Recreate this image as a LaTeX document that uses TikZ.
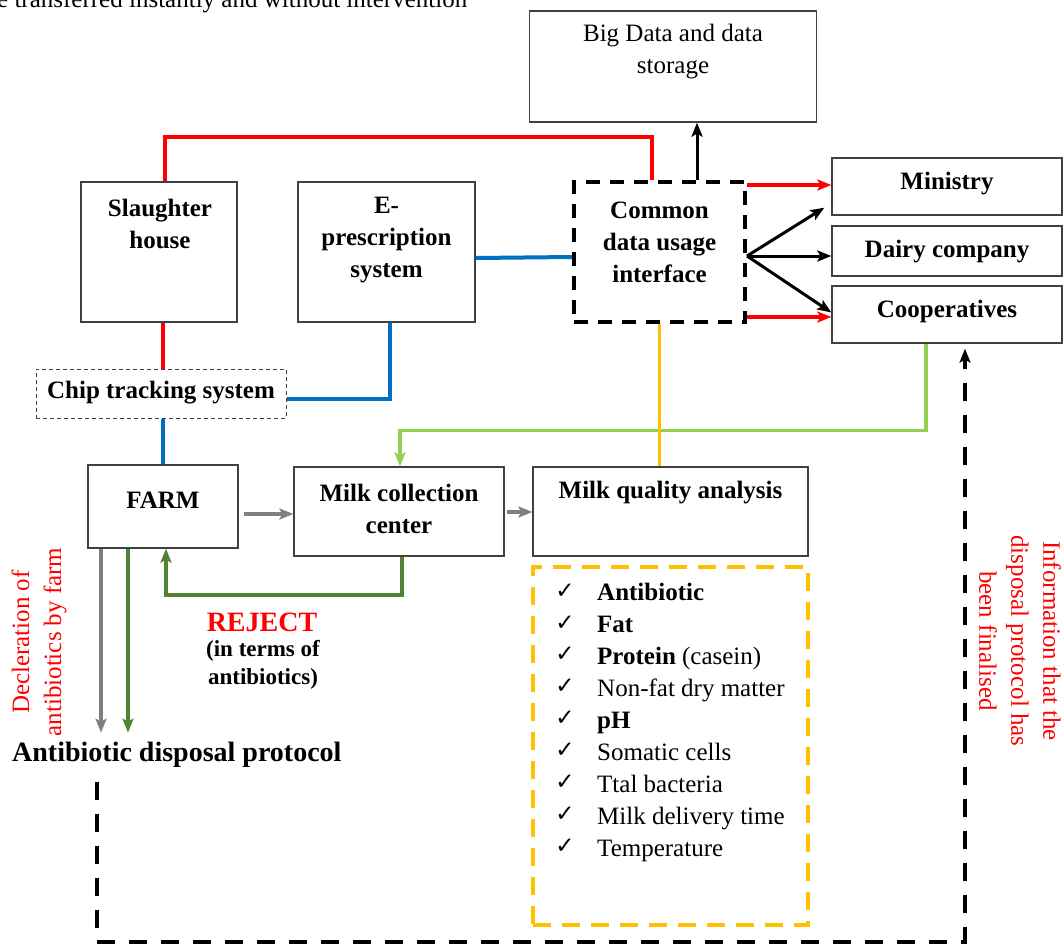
\documentclass[tikz,border=0pt]{standalone}
\usepackage{fontspec}
\setmainfont{Liberation Serif}
\newfontfamily\symfont{DejaVu Sans}
\usetikzlibrary{arrows.meta,calc}
\definecolor{cred}{HTML}{FF0000}
\definecolor{cblue}{HTML}{0070C0}
\definecolor{clgreen}{HTML}{92D050}
\definecolor{cdgreen}{HTML}{548235}
\definecolor{corange}{HTML}{FFC000}
\definecolor{cgray}{HTML}{808080}
\definecolor{cborder}{HTML}{404040}
\begin{document}
\begin{tikzpicture}[x=1pt,y=-1pt,
  box/.style={draw=cborder,line width=1.3pt,inner sep=0pt},
  txt/.style={font=\fontsize{25}{32}\selectfont\bfseries,align=center,inner sep=0pt},
  rtxt/.style={font=\fontsize{25}{32}\selectfont,align=center,inner sep=0pt},
  conn/.style={line width=4pt},
  thin/.style={line width=3pt},
  tip/.style={-{Stealth[length=14pt,width=11pt,inset=3pt]}},
  chk/.style={font=\fontsize{23}{25}\symfont,inner sep=0pt},
  item/.style={font=\fontsize{25}{32}\selectfont,anchor=base west,inner sep=0pt}
]
\clip (0,0) rectangle (1064,943);
\fill[white] (0,0) rectangle (1064,943);

% top cropped text
\node[rtxt,anchor=base west] (toptext) at (-3,7) {e transferred instantly and without intervention};

% boxes
\node[box,minimum width=287pt,minimum height=111pt] (bigdata) at (673,66.5) {};
\node[rtxt] (bigdatat) at (673,52) {Big Data and data\\storage};

\node[box,minimum width=156pt,minimum height=140pt] (sh) at (159,252) {};
\node[txt] (sht) at (160,224) {Slaughter\\house};

\node[box,minimum width=177pt,minimum height=140pt] (ep) at (386.5,252) {};
\node[txt] (ept) at (386.5,240) {E-\\prescription\\system};

\node[draw=black,line width=4pt,dash pattern=on 14pt off 10pt,minimum width=171pt,minimum height=140pt,inner sep=0pt] (cdi) at (659.5,252) {};
\node[txt] (cdit) at (659.5,242) {Common\\data usage\\interface};

\node[draw=cborder,line width=1pt,dash pattern=on 4pt off 3pt,minimum width=250pt,minimum height=49pt,inner sep=0pt] (chip) at (161,393.5) {};
\node[txt] (chipt) at (161,393) {Chip tracking system};

\node[box,minimum width=230pt,minimum height=57pt] (min) at (947,186.5) {};
\node[txt] (mint) at (947,184) {Ministry};
\node[box,minimum width=230pt,minimum height=50pt] (dairy) at (947,251) {};
\node[txt] (dairyt) at (947,252) {Dairy company};
\node[box,minimum width=230pt,minimum height=57pt] (coop) at (947,314.5) {};
\node[txt] (coopt) at (947,311) {Cooperatives};

\node[box,minimum width=150pt,minimum height=83pt] (farm) at (163,506.5) {};
\node[txt] (farmt) at (163,500) {FARM};
\node[box,minimum width=210pt,minimum height=89pt] (mcc) at (399,511.5) {};
\node[txt] (mcct) at (399,509) {Milk collection\\center};
\node[box,minimum width=275pt,minimum height=89pt] (mqa) at (670.5,511.5) {};
\node[txt] (mqat) at (670.5,493) {Milk quality analysis};

\node[draw=corange,line width=4pt,dash pattern=on 18pt off 11pt,minimum width=275pt,minimum height=358pt,inner sep=0pt] (chkbox) at (670.5,746) {};
\foreach \t [count=\i] in {{\bfseries Antibiotic},{\bfseries Fat},{{\bfseries Protein} (casein)},Non-fat dry matter,{\bfseries pH},Somatic cells,Ttal bacteria,Milk delivery time,Temperature} {
  \node[chk] (cm\i) at (565,{559+31.9*\i}) {✓};
  \node[item] (it\i) at (597,{569+31.9*\i}) {\t};
}

% labels
\node[font=\fontsize{28}{32}\selectfont\bfseries,anchor=west,inner sep=0pt] (adp) at (12,755) {Antibiotic disposal protocol};
\node[font=\fontsize{28}{30}\selectfont\bfseries,text=cred,inner sep=0pt] (rej) at (262,622) {REJECT};
\node[font=\fontsize{23}{28}\selectfont\bfseries,align=center,inner sep=0pt] (rejt) at (263,665) {(in terms of\\antibiotics)};
\node[rtxt,text=cred,rotate=90] (decl) at (39,642) {Decleration of\\antibiotics by farm};
\node[rtxt,text=cred,rotate=-90] (info) at (1020,641) {Information that the\\disposal protocol has\\been finalised};

% coordinates
\coordinate (r1) at ([yshift=-5pt]cdi.north east);
\coordinate (r2) at ([yshift=7pt]cdi.south east);
\coordinate (fan) at ([yshift=-4pt]cdi.east);
\coordinate (dstart) at (97,782);

% connectors
\draw[conn,cred] ([xshift=6pt]sh.north) -- ++(0,-44) -| ([xshift=-7.5pt]cdi.north);
\draw[thin,black,tip] ([xshift=37.5pt]cdi.north) -- ([xshift=24pt]bigdata.south);
\draw[conn,cblue] ([yshift=-6pt]ep.east) -- ([yshift=-5pt]cdi.west);
\draw[conn,cblue] ([xshift=3pt]ep.south) |- ([yshift=-5pt]chip.east);
\draw[conn,cred] (sh.south -| farm.north) -- (chip.north -| farm.north);
\draw[conn,cblue] (chip.south -| farm.north) -- (farm.north);

\draw[conn,cred,tip] (r1) -- (r1 -| min.west);
\draw[conn,cred,tip] (r2) -- (r2 -| coop.west);
\draw[thin,black,tip] (fan) -- ([shift={(-7pt,8pt)}]min.south west);
\draw[thin,black,tip] (fan) -- (fan -| dairy.west);
\draw[thin,black,tip] (fan) -- ([yshift=2pt]coop.west);

\draw[line width=3.5pt,clgreen,tip] ([xshift=-21pt]coop.south) -- ++(0,87) -| ([xshift=1pt]mcc.north);
\draw[line width=3.5pt,corange] (cdi.south) -- (cdi.south |- mqa.north);

\draw[conn,cgray,tip] ([shift={(5pt,-7.5pt)}]farm.east) -- ([yshift=-2.5pt]mcc.west);
\draw[conn,cgray,tip] ([shift={(2pt,-0.5pt)}]mcc.east) -- ([yshift=-0.5pt]mqa.west);
\draw[conn,cdgreen,tip] ([xshift=3pt]mcc.south) -- ++(0,38) -| ([xshift=3pt]farm.south);
\draw[conn,cgray,tip] ([xshift=-62pt]farm.south) -- ++(0,184);
\draw[conn,cdgreen,tip] ([xshift=-35pt]farm.south) -- ++(0,184);

\draw[conn,black,dash pattern=on 18pt off 14pt,tip] (dstart) |- ($(coop.south)+(18,598)$) -- ([shift={(18pt,-5pt)}]coop.south);
\end{tikzpicture}
\end{document}
